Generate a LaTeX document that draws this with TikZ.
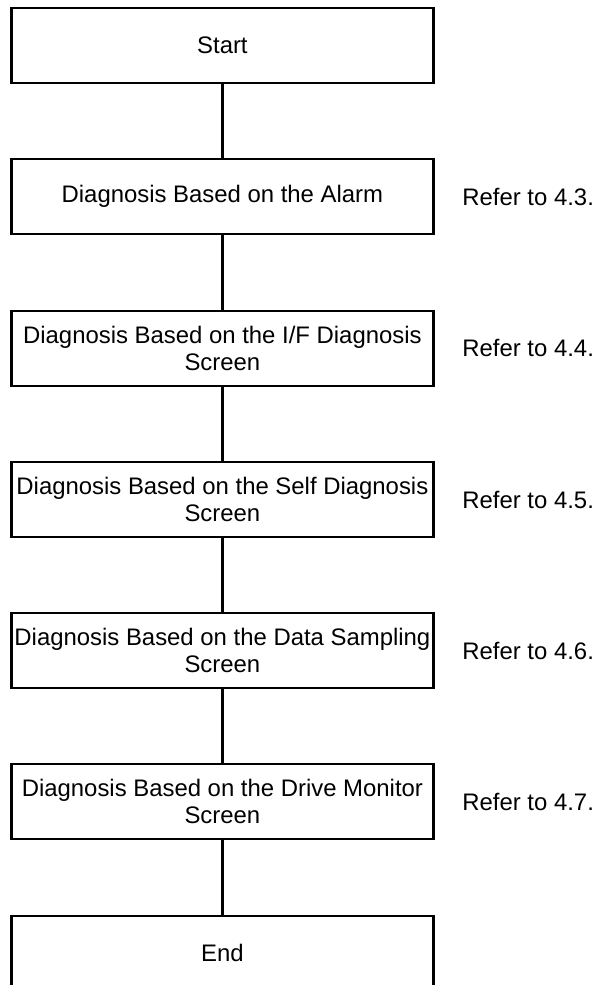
\documentclass[tikz,border=0pt]{standalone}
\usepackage{fontspec}
\setmainfont{Liberation Sans}
\usetikzlibrary{positioning}

\begin{document}
\begin{tikzpicture}[font=\fontsize{17}{19.3}\selectfont,
  stepbox/.style={draw,line width=1.6pt,minimum width=10.55cm,minimum height=1.875cm,align=center,inner sep=2pt},
  refnote/.style={inner sep=4pt},
  link/.style={line width=1.6pt}]
\clip (0,0) rectangle (14.875,-24.625);
\node[stepbox] (start) at (5.56,-1.13) {Start};
\node[stepbox] (alarm) at (5.56,-4.92) {Diagnosis Based on the Alarm};
\node[stepbox] (ifdiag) at (5.56,-8.71) {Diagnosis Based on the I/F Diagnosis\\Screen};
\node[stepbox] (selfdiag) at (5.56,-12.49) {Diagnosis Based on the Self Diagnosis\\Screen};
\node[stepbox] (sampling) at (5.56,-16.27) {Diagnosis Based on the Data Sampling\\Screen};
\node[stepbox] (drivemon) at (5.56,-20.04) {Diagnosis Based on the Drive Monitor\\Screen};
\node[stepbox] (finish) at (5.56,-23.83) {End};
% references to the sections
\node[refnote,right=0.55cm of alarm] (refalarm) {Refer to 4.3.};
\node[refnote,right=0.55cm of ifdiag] (refif) {Refer to 4.4.};
\node[refnote,right=0.55cm of selfdiag] (refself) {Refer to 4.5.};
\node[refnote,right=0.55cm of sampling] (refsampling) {Refer to 4.6.};
\node[refnote,right=0.55cm of drivemon] (refdrive) {Refer to 4.7.};
% flow
\draw[link] (start) -- (alarm);
\draw[link] (alarm) -- (ifdiag);
\draw[link] (ifdiag) -- (selfdiag);
\draw[link] (selfdiag) -- (sampling);
\draw[link] (sampling) -- (drivemon);
\draw[link] (drivemon) -- (finish);
\end{tikzpicture}
\end{document}
